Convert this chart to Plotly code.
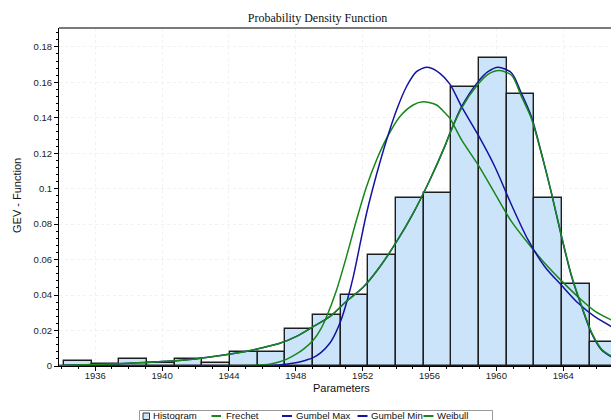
import plotly.graph_objects as go

# ---------------- data ----------------
bin_centers = [1934.96, 1936.61, 1938.27, 1939.93, 1941.58, 1943.24, 1944.89, 1946.55,
               1948.21, 1949.86, 1951.52, 1953.17, 1954.83, 1956.49, 1958.14, 1959.80,
               1961.45, 1963.11, 1964.77, 1966.42]
hist_density = [0.0028, 0.0009, 0.0038, 0.0017, 0.0038, 0.0019, 0.0081, 0.0081,
                0.0207, 0.0287, 0.0399, 0.0624, 0.0946, 0.0974, 0.1575, 0.1735,
                0.1534, 0.0946, 0.0464, 0.0135]
bin_width = 1.656

frechet_x = [1933.8, 1940.0, 1944.0, 1945.5, 1946.5, 1947.04, 1947.5, 1948.04, 1948.5,
             1949.04, 1949.5, 1949.84, 1950.44, 1951.03, 1951.63, 1952.23, 1952.83,
             1953.43, 1954.22, 1955.02, 1955.62, 1956.42, 1956.92, 1957.22, 1957.92,
             1958.91, 1959.91, 1960.91, 1961.9, 1962.9, 1963.9, 1964.89, 1965.89, 1966.9]
frechet_y = [0.0, 0.0, 0.0001, 0.0004, 0.0012, 0.0024, 0.004, 0.0068, 0.0098,
             0.0145, 0.021, 0.0278, 0.0429, 0.0617, 0.0823, 0.1011, 0.1162,
             0.1284, 0.1406, 0.1472, 0.149, 0.1472, 0.1428, 0.1397, 0.1275,
             0.1134, 0.0974, 0.0814, 0.0692, 0.0579, 0.048, 0.039, 0.031, 0.0259]

gumbel_max_x = [1933.8, 1940.0, 1944.0, 1946.0, 1947.0, 1947.5, 1948.0, 1948.5, 1949.04,
                1949.5, 1950.03, 1950.4, 1950.73, 1951.03, 1951.43, 1951.83, 1952.23,
                1952.83, 1953.43, 1954.03, 1954.62, 1955.22, 1955.88, 1956.62, 1957.22,
                1957.92, 1958.91, 1959.91, 1960.91, 1961.9, 1962.9, 1963.9, 1964.89,
                1965.89, 1966.9]
gumbel_max_y = [0.0, 0.0, 0.0, 0.0001, 0.0006, 0.0011, 0.0018, 0.003, 0.0047,
                0.0075, 0.0128, 0.019, 0.0265, 0.0355, 0.05, 0.068, 0.086,
                0.108, 0.1275, 0.1444, 0.1575, 0.166, 0.1685, 0.1651, 0.159,
                0.1463, 0.1303, 0.1124, 0.0908, 0.0711, 0.056, 0.0455, 0.0355,
                0.0278, 0.0222]

gumbel_min_x = [1933.8, 1936.0, 1938.0, 1940.0, 1942.0, 1944.0, 1945.0, 1946.0, 1947.04,
                1948.04, 1949.04, 1950.03, 1951.03, 1952.03, 1953.03, 1954.03, 1955.02,
                1956.02, 1956.92, 1957.22, 1957.92, 1958.91, 1959.5, 1960.11, 1960.91,
                1961.5, 1962.1, 1962.7, 1963.3, 1963.9, 1964.5, 1965.1, 1965.7,
                1966.3, 1966.9]
gumbel_min_y = [0.0003, 0.0009, 0.0015, 0.0025, 0.004, 0.0066, 0.0082, 0.0103, 0.0128,
                0.0167, 0.0222, 0.0278, 0.0365, 0.0444, 0.056, 0.0701, 0.0861,
                0.1049, 0.124, 0.1312, 0.1463, 0.1604, 0.166, 0.1685, 0.1653,
                0.1538, 0.1406, 0.12, 0.0974, 0.0729, 0.0504, 0.0335, 0.0184,
                0.009, 0.005]

weibull_x = [1933.8, 1936.0, 1938.0, 1940.0, 1942.0, 1944.0, 1945.0, 1946.0, 1947.04,
             1948.04, 1949.04, 1950.03, 1951.03, 1952.03, 1953.03, 1954.03, 1955.02,
             1956.02, 1956.92, 1957.22, 1957.92, 1958.91, 1959.5, 1960.15, 1960.91,
             1961.5, 1962.1, 1962.7, 1963.3, 1963.9, 1964.5, 1965.1, 1965.7,
             1966.3, 1966.9]
weibull_y = [0.0003, 0.0009, 0.0015, 0.0025, 0.004, 0.0066, 0.0082, 0.0103, 0.0128,
             0.0167, 0.0222, 0.0278, 0.0365, 0.0444, 0.056, 0.0701, 0.0861,
             0.1049, 0.124, 0.1312, 0.1455, 0.159, 0.1645, 0.1666, 0.164,
             0.152, 0.1395, 0.1195, 0.0974, 0.0733, 0.051, 0.034, 0.019,
             0.0095, 0.0055]

x_tick_vals = [1936, 1940, 1944, 1948, 1952, 1956, 1960, 1964]
legend_labels = ["Histogram", "Frechet", "Gumbel Max", "Gumbel Min", "Weibull"]

# ---------------- style / layout geometry ----------------
BLUE = "#1414a0"
GREEN = "#17871a"
BAR_FILL = "#cce4fa"
W, H = 611, 420
L, R, T, B = 59, 0, 28, 54
PW, PH = W - L - R, H - T - B


def px2x(px):                # page pixel -> paper x
    return (px - L) / PW


def py2y(py):                # page pixel -> paper y
    return (H - B - py) / PH


fig = go.Figure()
fig.add_trace(go.Bar(x=bin_centers, y=hist_density, width=bin_width, name="Histogram",
                     marker=dict(color=BAR_FILL, line=dict(color="#1e1e1e", width=1.4)),
                     showlegend=False))
for name, xs, ys, col in [("Frechet", frechet_x, frechet_y, GREEN),
                          ("Gumbel Max", gumbel_max_x, gumbel_max_y, BLUE),
                          ("Gumbel Min", gumbel_min_x, gumbel_min_y, BLUE),
                          ("Weibull", weibull_x, weibull_y, GREEN)]:
    fig.add_trace(go.Scatter(x=xs, y=ys, mode="lines", name=name,
                             line=dict(color=col, width=1.5, shape="spline", smoothing=0.8),
                             showlegend=False))

font_tick = dict(family="Liberation Sans, Arial, sans-serif", size=9.5, color="#222")

fig.update_layout(
    width=W, height=H, autosize=False,
    margin=dict(l=L, r=R, t=T, b=B, pad=0),
    paper_bgcolor="white", plot_bgcolor="white",
    bargap=0,
    title=dict(text="Probability Density Function", x=317.5 / W, xanchor="center",
               y=1 - 18 / H, yanchor="middle",
               font=dict(family="Liberation Serif, Times New Roman, serif", size=12, color="#111")),
    xaxis=dict(range=[1933.83, 1966.86], tickmode="array", tickvals=x_tick_vals,
               ticks="outside", ticklen=4, tickcolor="#000", tickwidth=1,
               ticklabelstandoff=-3,
               showline=True, linecolor="#000", linewidth=1,
               showgrid=True, gridcolor="#f1f1f1", griddash="3px,3px", gridwidth=1,
               zeroline=False, tickfont=font_tick,
               minor=dict(dtick=1, tick0=1936, ticks="outside", ticklen=2,
                          tickcolor="#000", showgrid=False)),
    yaxis=dict(range=[0, 0.19064], dtick=0.02, tick0=0,
               ticks="outside", ticklen=4, tickcolor="#000", tickwidth=1,
               showline=True, linecolor="#000", linewidth=1,
               showgrid=True, gridcolor="#f1f1f1", griddash="3px,3px", gridwidth=1,
               zeroline=False, tickfont=font_tick,
               minor=dict(dtick=0.004, tick0=0, ticks="outside", ticklen=2,
                          tickcolor="#000", showgrid=False)),
)

# top border line
fig.add_shape(type="line", xref="paper", yref="paper", x0=0, x1=1, y0=1, y1=1,
              line=dict(color="#7a7a7a", width=2))

# axis titles
font_lab = dict(family="Liberation Sans, Arial, sans-serif", size=11, color="#111")
fig.add_annotation(text="Parameters", xref="paper", yref="paper", x=px2x(341), y=py2y(388),
                   showarrow=False, font=font_lab, xanchor="center", yanchor="middle")
fig.add_annotation(text="GEV - Function", xref="paper", yref="paper", x=px2x(17), y=py2y(196),
                   showarrow=False, font=font_lab, textangle=-90,
                   xanchor="center", yanchor="middle")

# custom legend (box runs off the bottom edge as in the reference)
fig.add_shape(type="rect", xref="paper", yref="paper",
              x0=px2x(139.5), x1=px2x(492.5), y0=py2y(430), y1=py2y(410.5),
              line=dict(color="#9a9a9a", width=1), fillcolor="white", layer="above")
fig.add_shape(type="rect", xref="paper", yref="paper",
              x0=px2x(143), x1=px2x(149.5), y0=py2y(419.5), y1=py2y(413),
              line=dict(color="#333", width=1), fillcolor=BAR_FILL, layer="above")
legend_items = [(None, 151, legend_labels[0]),
                ((211.5, 221), 223.5, legend_labels[1]),
                ((282, 292), 293.5, legend_labels[2]),
                ((357.5, 367.5), 369, legend_labels[3]),
                ((423.5, 433.5), 435, legend_labels[4])]
colors = [None, GREEN, BLUE, BLUE, GREEN]
font_leg = dict(family="Liberation Sans, Arial, sans-serif", size=9.6, color="#111")
for (seg, tx, label), col in zip(legend_items, colors):
    if seg:
        fig.add_shape(type="line", xref="paper", yref="paper",
                      x0=px2x(seg[0]), x1=px2x(seg[1]), y0=py2y(416), y1=py2y(416),
                      line=dict(color=col, width=2), layer="above")
    fig.add_annotation(text=label, xref="paper", yref="paper", x=px2x(tx), y=py2y(415.5),
                       showarrow=False, font=font_leg, xanchor="left", yanchor="middle")

fig.write_html("out.html",
               config={"displayModeBar": False},
               post_script="document.body.style.margin='0px';"
                           "document.body.style.overflow='hidden';")
